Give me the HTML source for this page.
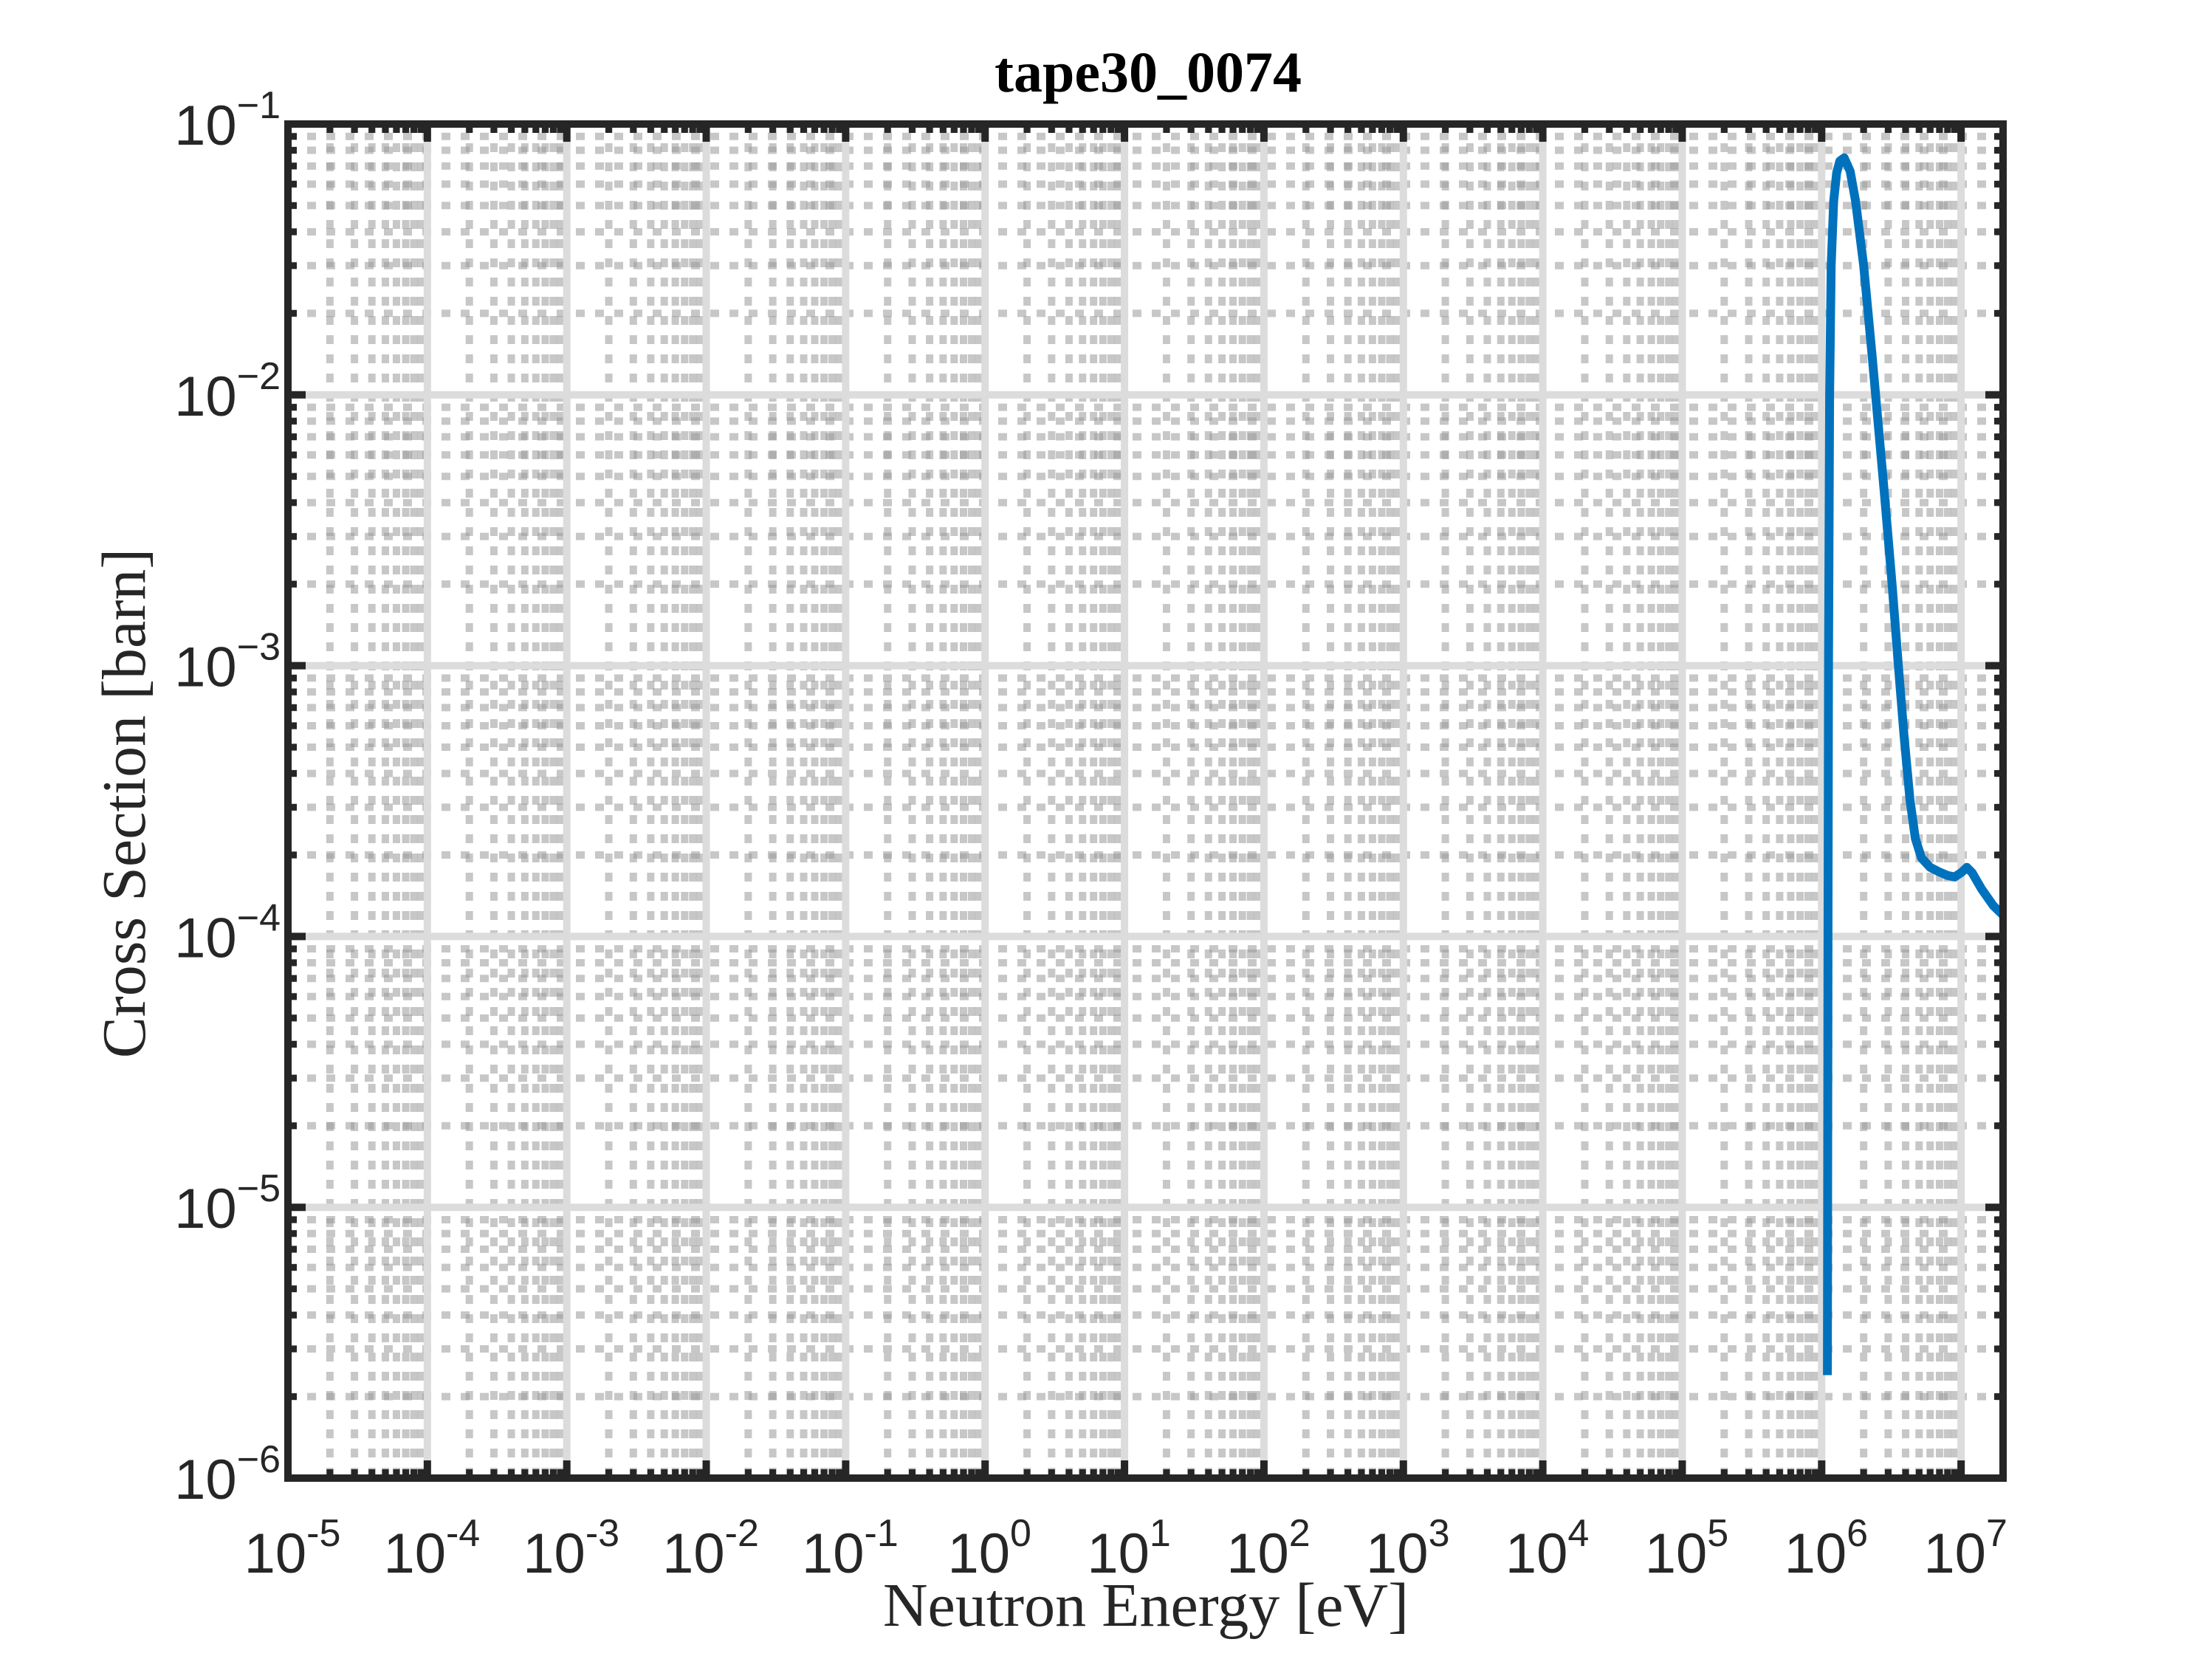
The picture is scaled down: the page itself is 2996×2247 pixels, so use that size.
<!DOCTYPE html>
<html><head><meta charset="utf-8"><style>
html,body{margin:0;padding:0;background:#fff;}
svg{display:block;}
</style></head><body>
<svg id="chart" width="2996" height="2247" xmlns="http://www.w3.org/2000/svg">
<rect width="2996" height="2247" fill="#fff"/>
<g id="grid"></g>
<g id="series"></g>
<g id="axes"></g>
<text x="1555" y="124" text-anchor="middle" font-family="Liberation Serif, serif" font-weight="bold" font-size="78" fill="#000">tape30_0074</text>
<text x="1552" y="2202" text-anchor="middle" font-family="Liberation Serif, serif" font-size="84" fill="#262626">Neutron Energy [eV]</text>
<text transform="translate(196,1088) rotate(-90)" text-anchor="middle" font-family="Liberation Serif, serif" font-size="84" fill="#262626">Cross Section [barn]</text>
</svg>
<script>
const energies = [1.1e6,1.11e6,1.12e6,1.14e6,1.17e6,1.22e6,1.28e6,1.35e6,1.45e6,1.6e6,1.75e6,2e6,2.3e6,2.8e6,3.2e6,3.55e6,3.9e6,4.3e6,4.7e6,5.2e6,6e6,7e6,8e6,9e6,1e7,1.1e7,1.2e7,1.4e7,1.7e7,2e7];
const crossSections = [2.4e-6,1e-4,1e-3,1e-2,0.03,0.052,0.066,0.073,0.075,0.067,0.052,0.03,0.014,0.0045,0.002,1e-3,5.5e-4,3.2e-4,2.3e-4,1.95e-4,1.8e-4,1.73e-4,1.68e-4,1.66e-4,1.72e-4,1.8e-4,1.72e-4,1.5e-4,1.3e-4,1.2e-4];
const xTickExps = [-5,-4,-3,-2,-1,0,1,2,3,4,5,6,7];
const yTickExps = [-6,-5,-4,-3,-2,-1];
const xDomain = [1e-5, 2e7];
const yDomain = [1e-6, 1e-1];

const L=390,R=2713,T=168,B=2002;
const NS='http://www.w3.org/2000/svg';
const lx=Math.log10;
function X(v){return L+(lx(v)-lx(xDomain[0]))/(lx(xDomain[1])-lx(xDomain[0]))*(R-L);}
function Y(v){return B-(lx(v)-lx(yDomain[0]))/(lx(yDomain[1])-lx(yDomain[0]))*(B-T);}
function mk(tag,attrs,parent){const e=document.createElementNS(NS,tag);for(const k in attrs)e.setAttribute(k,attrs[k]);parent.appendChild(e);return e;}
function expStr(e){return e<0?'\u2212'+(-e):String(e);}
const grid=document.getElementById('grid'),axes=document.getElementById('axes'),series=document.getElementById('series');

for(let e=-5;e<=7;e++){for(let m=2;m<=9;m++){const v=m*Math.pow(10,e);if(v>=xDomain[1])continue;const x=X(v);
 const l=mk('line',{x1:x,x2:x,y1:T,y2:B,stroke:'#999','stroke-opacity':0.55,'stroke-width':10,'stroke-dasharray':'12 14'},grid);
 
 }}
for(let e=-6;e<-1;e++){for(let m=2;m<=9;m++){const y=Y(m*Math.pow(10,e));
 const l=mk('line',{x1:L,x2:R,y1:y,y2:y,stroke:'#999','stroke-opacity':0.55,'stroke-width':10,'stroke-dasharray':'12 14'},grid);
 
 }}
xTickExps.forEach(e=>{const x=X(Math.pow(10,e));
 const l=mk('line',{x1:x,x2:x,y1:T,y2:B,stroke:'#dcdcdc','stroke-width':10},grid);
 
 });
yTickExps.forEach(e=>{const y=Y(Math.pow(10,e));
 const l=mk('line',{x1:L,x2:R,y1:y,y2:y,stroke:'#dcdcdc','stroke-width':10},grid);
 
 });

const pts=energies.map((v,i)=>X(v).toFixed(1)+','+Y(crossSections[i]).toFixed(1)).join(' ');
const pl=mk('polyline',{points:pts,fill:'none',stroke:'#0072BD','stroke-width':12,'stroke-linejoin':'round'},series);



const tc='#262626';
xTickExps.forEach(e=>{const x=X(Math.pow(10,e));
 [[B,B-24],[T,T+24]].forEach(([a,b])=>{const t=mk('line',{x1:x,x2:x,y1:a,y2:b,stroke:tc,'stroke-width':10},axes);
 
 });
 const tx=mk('text',{x:x+6,y:2130,'text-anchor':'middle','font-family':'Liberation Sans, sans-serif','font-size':76,fill:tc},axes);
 
 
 tx.appendChild(document.createTextNode('10'));
 const s=mk('tspan',{dy:-36,'font-size':52},tx);s.textContent=String(e);
});
for(let e=-5;e<=7;e++){for(let m=2;m<=9;m++){const v=m*Math.pow(10,e);if(v>=xDomain[1])continue;const x=X(v);
 [[B,B-12],[T,T+12]].forEach(([a,b])=>{const t=mk('line',{x1:x,x2:x,y1:a,y2:b,stroke:tc,'stroke-width':9},axes);
 
 });}}
yTickExps.forEach(e=>{const y=Y(Math.pow(10,e));
 [[L,L+24],[R,R-24]].forEach(([a,b])=>{const t=mk('line',{x1:a,x2:b,y1:y,y2:y,stroke:tc,'stroke-width':10},axes);
 
 });
 const tx=mk('text',{x:380,y:y+28,'text-anchor':'end','font-family':'Liberation Sans, sans-serif','font-size':76,fill:tc},axes);
 
 
 tx.appendChild(document.createTextNode('10'));
 const s=mk('tspan',{dy:-36,'font-size':52},tx);s.textContent=expStr(e);
});
for(let e=-6;e<-1;e++){for(let m=2;m<=9;m++){const y=Y(m*Math.pow(10,e));
 [[L,L+12],[R,R-12]].forEach(([a,b])=>{const t=mk('line',{x1:a,x2:b,y1:y,y2:y,stroke:tc,'stroke-width':9},axes);
 
 });}}
const box=mk('rect',{x:L,y:T,width:R-L,height:B-T,fill:'none',stroke:tc,'stroke-width':10},axes);


</script>
</body></html>
